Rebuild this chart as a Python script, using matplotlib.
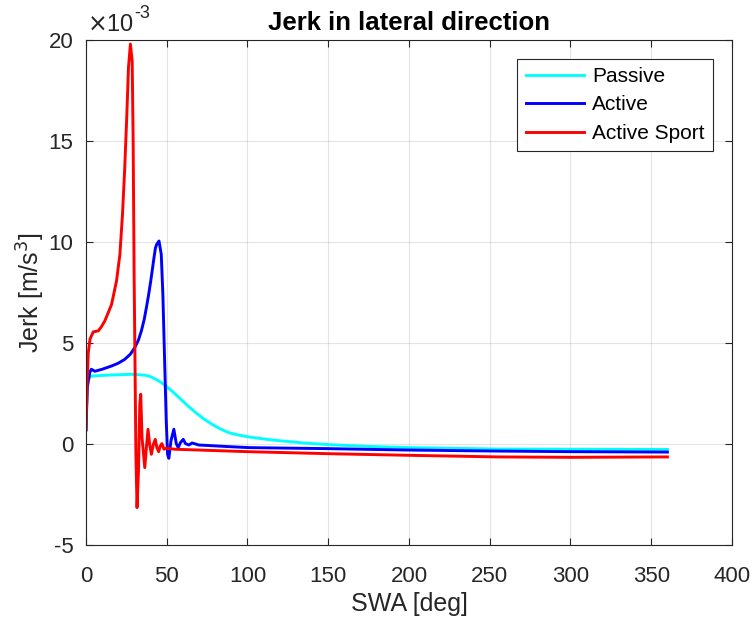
import numpy as np
import matplotlib
matplotlib.use("Agg")
from matplotlib import pyplot as plt

# values, jerk in units of 1e-3 m/s^3
passive_swa = [0, 0.8, 2.3, 4.3, 16.6, 29, 37.2, 40, 43.3, 46.5, 49.5, 53.5, 57.7, 62.5, 68,
               73, 78.2, 83, 88.5, 94, 100, 110, 120, 135, 150, 175, 200, 255, 300, 360]
passive_jerk = [0.7, 3.12, 3.32, 3.37, 3.42, 3.45, 3.4, 3.33, 3.2, 3.05, 2.87, 2.6, 2.29, 1.93,
                1.55, 1.24, 0.97, 0.75, 0.56, 0.45, 0.36, 0.25, 0.16, 0.05, -0.03, -0.12,
                -0.18, -0.25, -0.26, -0.27]

active_swa = [0, 0.8, 2.3, 3.3, 5.5, 10, 15.8, 20, 24, 27.5, 30.2, 32.5, 34.3, 36, 37.4, 38.8,
              40.1, 41.2, 42.1, 43, 43.8, 45.2, 46.6, 47.6, 48.7, 49.7, 50.5, 51.3, 52.6,
              54.4, 55.9, 57.1, 58.5, 60.2, 61.6, 63.7, 65.7, 69.8, 88.3, 101, 150, 200, 255,
              300, 360]
active_jerk = [0.7, 2.79, 3.53, 3.7, 3.6, 3.7, 3.86, 4.0, 4.19, 4.45, 4.77, 5.15, 5.6, 6.15,
               6.75, 7.4, 8.07, 8.7, 9.22, 9.7, 9.89, 10.05, 9.39, 7.41, 4.1, 1.14, -0.51,
               -0.71, 0.15, 0.73, 0.02, -0.18, 0.07, 0.23, 0.02, -0.05, 0.05, -0.05, -0.13,
               -0.18, -0.23, -0.3, -0.35, -0.38, -0.4]

sport_swa = [0, 0.7, 1.4, 2.5, 4.5, 7.6, 9.5, 11.7, 15.8, 18.9, 21, 22.6, 24, 25.3, 26.3, 27.5,
             28.6, 29.2, 29.8, 30.4, 30.9, 31.6, 32.5, 33.3, 33.9, 34.7, 36.4, 37.4, 38.4,
             39.4, 40.5, 41.7, 42.9, 43.9, 45.0, 46.0, 47.0, 48.3, 49.7, 55, 70, 100, 150,
             200, 255, 300, 360]
sport_jerk = [0.7, 3.0, 4.5, 5.2, 5.55, 5.6, 5.8, 6.1, 6.9, 8.07, 9.39, 11.37, 13.68, 16.32,
              18.63, 19.8, 18.96, 15.0, 8.4, 3.6, -0.5, -3.15, -1.34, 1.96, 2.46, 0.31, -1.17,
              -0.18, 0.73, -0.02, -0.51, -0.02, 0.23, -0.18, -0.38, -0.1, 0.02, -0.26, -0.21,
              -0.26, -0.3, -0.38, -0.48, -0.56, -0.64, -0.66, -0.64]

xticks = [0, 50, 100, 150, 200, 250, 300, 350, 400]
yticks = [-5, 0, 5, 10, 15, 20]

plt.rcParams['font.family'] = ['Liberation Sans', 'DejaVu Sans']
plt.rcParams['axes.unicode_minus'] = False
axis_grey = (0.15, 0.15, 0.15)

fig = plt.figure(figsize=(7.53, 6.21), dpi=100)
ax = fig.add_axes([0.1142, 0.1224, 0.8579, 0.8132])

ax.plot(passive_swa, passive_jerk, color='cyan', lw=2.1, label='Passive')
ax.plot(active_swa, active_jerk, color='blue', lw=2.1, label='Active')
ax.plot(sport_swa, sport_jerk, color='red', lw=2.1, label='Active Sport')

ax.set_xlim(0, 400)
ax.set_ylim(-5, 20)
ax.set_xticks(xticks)
ax.set_yticks(yticks)
ax.grid(True, color=(0.15, 0.15, 0.15), alpha=0.12, lw=0.8)
ax.tick_params(direction='in', top=True, right=True, labelsize=16, colors=axis_grey,
               length=5, width=0.8)
ax.tick_params(axis='x', pad=15)
ax.tick_params(axis='y', pad=9)
for sp in ax.spines.values():
    sp.set_color(axis_grey)
    sp.set_linewidth(0.8)

ax.set_xlabel('SWA [deg]', fontsize=18, color=axis_grey, labelpad=4)
ax.set_ylabel('Jerk [m/s$^3$]', fontsize=18, color=axis_grey, labelpad=1)
ax.set_title('Jerk in lateral direction', fontsize=18.5, fontweight='bold', pad=7)

# exponent label at the top left, as MATLAB draws it
ax.text(0.002, 1.008, r'$\times$10', transform=ax.transAxes, fontsize=17,
        color=axis_grey, ha='left', va='bottom')
ax.text(0.074, 1.036, '-3', transform=ax.transAxes, fontsize=13,
        color=axis_grey, ha='left', va='bottom')

leg = ax.legend(loc='upper right', fontsize=15, fancybox=False, framealpha=1,
                edgecolor=axis_grey, borderaxespad=0.9, handlelength=2.8,
                handletextpad=0.4, borderpad=0.4, labelspacing=0.45)
leg.get_frame().set_linewidth(0.8)

fig.savefig('out.png', dpi=100)
